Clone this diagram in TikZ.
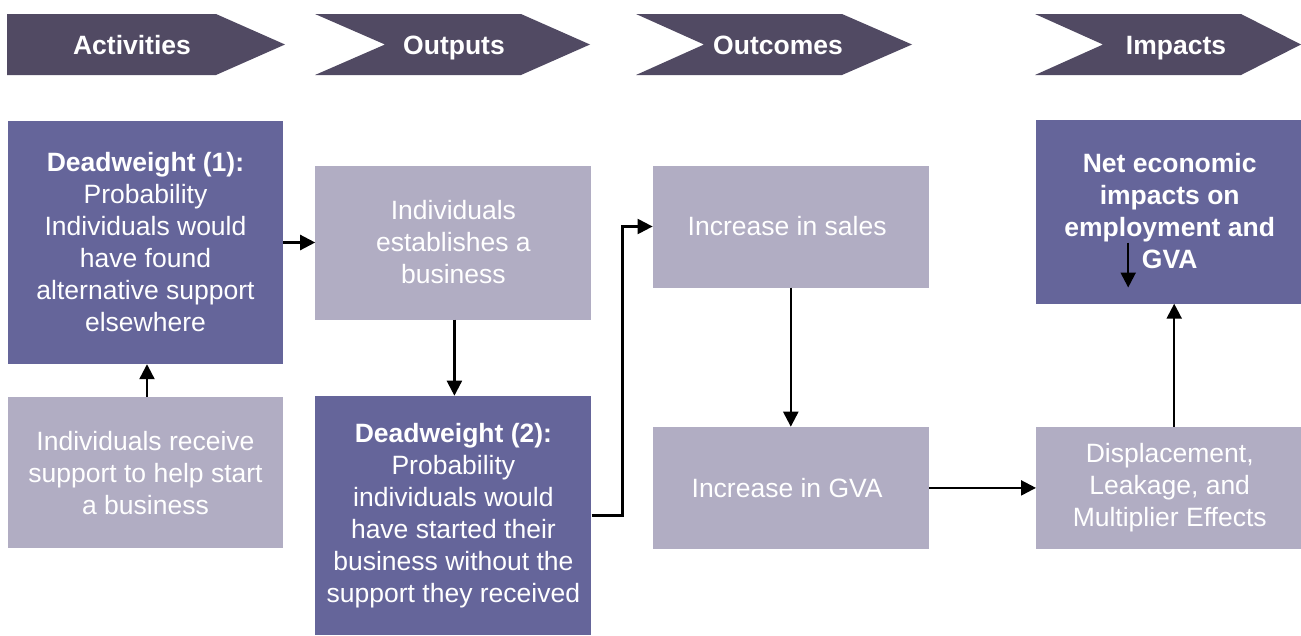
\documentclass[tikz,border=0pt]{standalone}
\usepackage{fontspec}
\setmainfont{Liberation Sans}
\usetikzlibrary{arrows.meta,positioning}
\definecolor{chevfill}{HTML}{514A63}
\definecolor{deadfill}{HTML}{65659A}
\definecolor{lightfill}{HTML}{B1ADC3}

\begin{document}
\begin{tikzpicture}[x=1pt, y=-1pt,
    darkbox/.style={rectangle, fill=deadfill, text=white, align=center, inner sep=0pt,
        font=\fontsize{26.5}{32}\selectfont},
    lightbox/.style={rectangle, fill=lightfill, text=white, align=center, inner sep=0pt,
        font=\fontsize{26.5}{32}\selectfont},
    heading/.style={text=white, font=\fontsize{26.5}{32}\selectfont\bfseries, inner sep=0pt, anchor=base},
    link/.style={-{Triangle[length=15pt,width=15pt]}, line width=2.3pt}]
    \useasboundingbox (0,0) rectangle (1301,635);

    % Chevrons
    \fill[chevfill] (7,14) -- (216,14) -- (285,44.5) -- (216,75) -- (7,75) -- cycle;
    \fill[chevfill] (315,14) -- (521,14) -- (590,44.5) -- (521,75) -- (315,75) -- (385,44.5) -- cycle;
    \fill[chevfill] (636,14) -- (842,14) -- (912,44.5) -- (842,75) -- (636,75) -- (704,44.5) -- cycle;
    \fill[chevfill] (1035,14) -- (1241,14) -- (1301,44.5) -- (1241,75) -- (1035,75) -- (1103,44.5) -- cycle;
    \node[heading] (hact) at (132,54) {Activities};
    \node[heading] (hout) at (454,54) {Outputs};
    \node[heading] (hcome) at (778,54) {Outcomes};
    \node[heading] (himp) at (1176,54) {Impacts};

    % Activities
    \node[darkbox, minimum width=275pt, minimum height=243pt] (dead1) at (145.5,242.5) {
        \textbf{Deadweight (1):}\\
        Probability\\
        Individuals would\\
        have found\\
        alternative support\\
        elsewhere
    };
    \node[lightbox, minimum width=275pt, minimum height=151pt, below=33pt of dead1] (receive) {
        Individuals receive\\
        support to help start\\
        a business
    };

    % Outputs
    \node[lightbox, minimum width=276pt, minimum height=154pt, right=32pt of dead1] (estab) {
        Individuals\\
        establishes a\\
        business
    };
    \node[darkbox, minimum width=276pt, minimum height=239pt, below=76pt of estab] (dead2) {
        \textbf{Deadweight (2):}\\
        Probability\\
        individuals would\\
        have started their\\
        business without the\\
        support they received
    };

    % Outcomes
    \node[lightbox, minimum width=276pt, minimum height=122pt, right=61pt of estab, yshift=16pt] (sales) {
        Increase in sales
    };
    \node[lightbox, minimum width=276pt, minimum height=122pt, below=139pt of sales] (gva) {
        Increase in GVA
    };

    % Impacts
    \node[lightbox, minimum width=267pt, minimum height=122pt, right=107pt of gva] (disp) {
        Displacement,\\
        Leakage, and\\
        Multiplier Effects
    };
    \node[darkbox, minimum width=267pt, minimum height=184pt, above=123pt of disp,
        font=\fontsize{26.5}{32}\selectfont\bfseries] (net) {
        Net economic\\
        impacts on\\
        employment and\\
        GVA
    };
    \coordinate (stray top) at ([xshift=-41.5pt, yshift=-31pt]net.center);
    \coordinate (stray end) at ([xshift=-41.5pt, yshift=-76pt]net.center);

    % Arrows
    \draw[link] (dead1) -- (estab);
    \draw[link] ([xshift=1.5pt]receive.north) -- ([xshift=1.5pt]dead1.south);
    \draw[link] ([xshift=1pt]estab.south) -- ([xshift=1pt]dead2.north);
    \draw[link] (dead2.east) -- ([xshift=31pt]dead2.east) |- (sales.west);
    \draw[link] (sales) -- (gva);
    \draw[link] (gva) -- (disp);
    \draw[link] ([xshift=4.5pt]disp.north) -- ([xshift=4.5pt]net.south);
    \draw[link] (stray top) -- (stray end);

\end{tikzpicture}
\end{document}
